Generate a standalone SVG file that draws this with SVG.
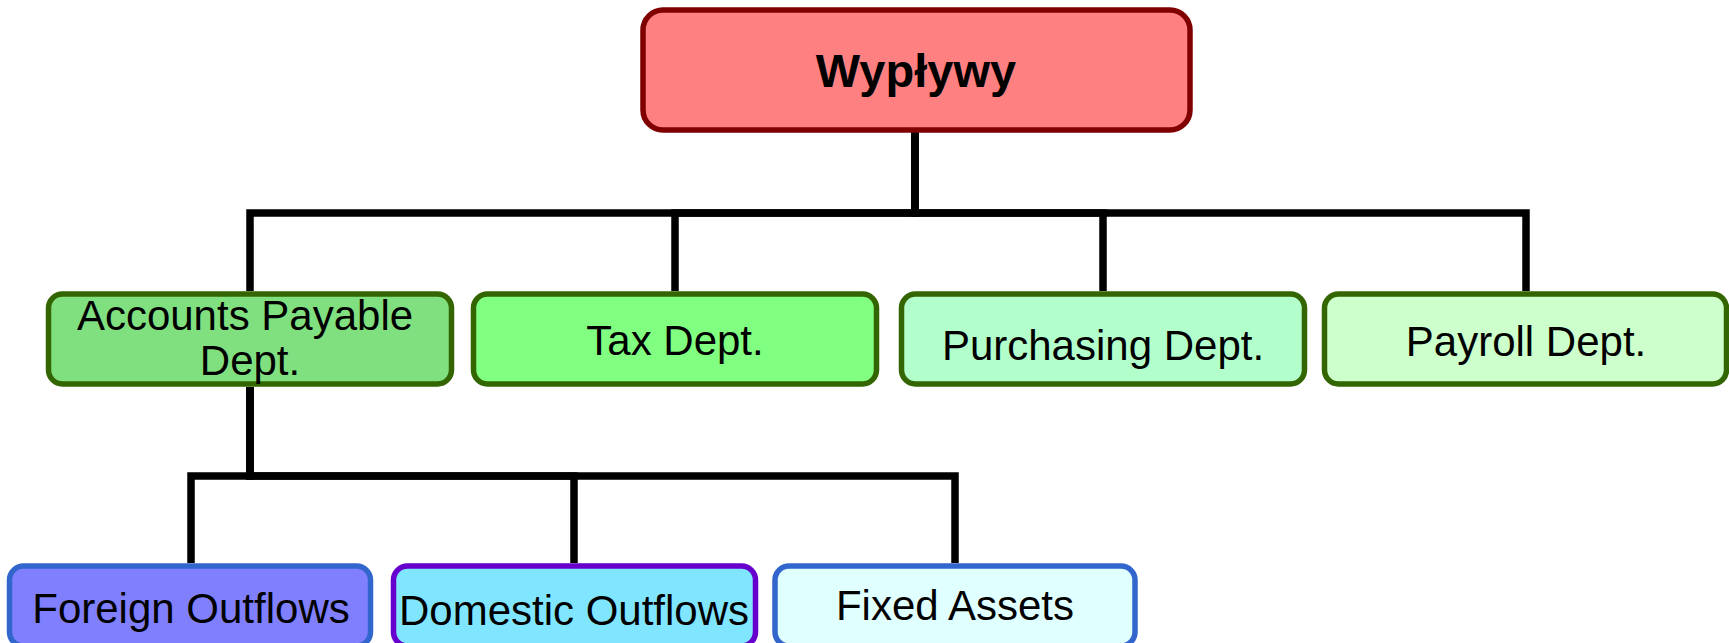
<svg xmlns="http://www.w3.org/2000/svg" width="1729" height="643" viewBox="0 0 1729 643">
<style>
.box{stroke-width:5.5}
.l2{stroke:#336600}
.t{font-family:"Liberation Sans",Arial,sans-serif;font-size:42px;fill:#000;text-anchor:middle}
.tb{font-weight:bold;font-size:47px}
.conn{fill:none;stroke:#000;stroke-width:7.5;stroke-linejoin:miter;stroke-linecap:butt}
</style>
<rect width="1729" height="643" fill="#fff"/>
<g id="connectors">
<path class="conn" d="M915,131 V213 H250 V291"/>
<path class="conn" d="M915,131 V213 H675 V291"/>
<path class="conn" d="M915,131 V213 H1103 V291"/>
<path class="conn" d="M915,131 V213 H1526 V291"/>
<path class="conn" d="M250,387 V476 H191 V563"/>
<path class="conn" d="M250,387 V476 H574 V563"/>
<path class="conn" d="M250,387 V476 H955 V563"/>
</g>
<g id="root">
<rect class="box" x="643" y="10" width="547" height="120" rx="20" fill="#FF8080" stroke="#800000"/>
<text class="t tb" x="916" y="87">Wypływy</text>
</g>
<g id="ap">
<rect class="box l2" x="48.5" y="294" width="403" height="90" rx="14" fill="#80E080"/>
<text class="t" x="245" y="330">Accounts Payable</text>
<text class="t" x="250" y="375">Dept.</text>
</g>
<g id="tax">
<rect class="box l2" x="473.5" y="294" width="403" height="90" rx="14" fill="#80FF80"/>
<text class="t" x="675" y="355">Tax Dept.</text>
</g>
<g id="purchasing">
<rect class="box l2" x="901.5" y="294" width="403" height="90" rx="14" fill="#B3FFCC"/>
<text class="t" x="1103" y="360">Purchasing Dept.</text>
</g>
<g id="payroll">
<rect class="box l2" x="1324.5" y="294" width="402" height="90" rx="14" fill="#CCFFCC"/>
<text class="t" x="1526" y="356">Payroll Dept.</text>
</g>
<g id="foreign">
<rect class="box" x="9.5" y="566" width="361" height="80" rx="14" fill="#8080FF" stroke="#3366CC"/>
<text class="t" x="191" y="623">Foreign Outflows</text>
</g>
<g id="domestic">
<rect class="box" x="393.5" y="566" width="362" height="80" rx="14" fill="#80E6FF" stroke="#6600CC"/>
<text class="t" x="574" y="625">Domestic Outflows</text>
</g>
<g id="fixed">
<rect class="box" x="775" y="566" width="360" height="80" rx="14" fill="#E0FFFF" stroke="#3366CC"/>
<text class="t" x="955" y="620">Fixed Assets</text>
</g>
</svg>
